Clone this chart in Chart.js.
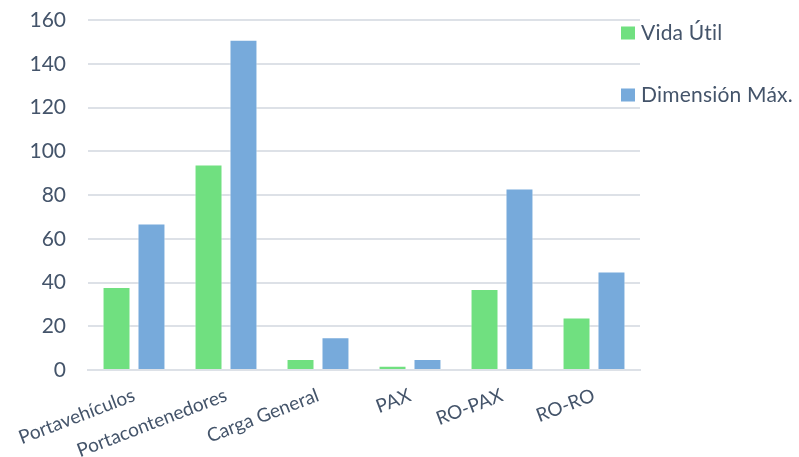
<!DOCTYPE html>
<html>
<head>
<meta charset="utf-8">
<script src="https://cdn.jsdelivr.net/npm/chart.js@4.4.1/dist/chart.umd.min.js"></script>
<style>
  html, body { margin: 0; padding: 0; background: #ffffff; }
  #wrap { width: 799px; height: 457px; }
</style>
</head>
<body>
<div id="wrap"><canvas id="c" width="799" height="457"></canvas></div>
<script>
const categories = ['Portavehículos', 'Portacontenedores', 'Carga General', 'PAX', 'RO-PAX', 'RO-RO'];
const vidaUtil = [38, 94, 5, 2, 37, 24];
const dimensionMax = [67, 151, 15, 5, 83, 45];
const yTicks = [0, 20, 40, 60, 80, 100, 120, 140, 160];

const TEXT = '#44546A';
const GRID = '#DDE1E7';
const FONT = 'Lato, "Open Sans", sans-serif';

// Legend drawn at the upper right, partly over the plot area
const sideLegend = {
  id: 'sideLegend',
  afterDraw(chart) {
    const ctx = chart.ctx;
    ctx.save();
    ctx.font = '21px ' + FONT;
    if ('letterSpacing' in ctx) ctx.letterSpacing = '0.2px';
    ctx.textBaseline = 'middle';
    ctx.textAlign = 'left';
    chart.data.datasets.forEach((ds, i) => {
      const cy = 33 + i * 62;
      ctx.fillStyle = ds.backgroundColor;
      ctx.fillRect(621, cy - 6.5, 14, 13);
      ctx.fillStyle = TEXT;
      ctx.fillText(ds.label, 641, cy);
    });
    ctx.restore();
  }
};

new Chart(document.getElementById('c'), {
  type: 'bar',
  data: {
    labels: categories,
    datasets: [
      { label: 'Vida Útil', data: vidaUtil, backgroundColor: '#70E080',
        borderColor: 'rgba(255,255,255,0.55)', borderWidth: 1 },
      { label: 'Dimensión Máx.', data: dimensionMax, backgroundColor: '#77AADB',
        borderColor: 'rgba(255,255,255,0.55)', borderWidth: 1 }
    ]
  },
  options: {
    responsive: false,
    animation: false,
    layout: { padding: { top: 20, right: 159, left: 0, bottom: 0 } },
    datasets: { bar: { categoryPercentage: 0.76, barPercentage: 0.8 } },
    plugins: { legend: { display: false }, tooltip: { enabled: false } },
    scales: {
      x: {
        grid: { display: false, drawTicks: false },
        border: { display: true, color: GRID, width: 2 },
        ticks: {
          color: TEXT, font: { family: FONT, size: 19 },
          minRotation: 21, maxRotation: 21, autoSkip: false, padding: 14
        },
        afterFit(scale) { scale.height = 87; scale.paddingLeft = 0; scale.paddingRight = 0; }
      },
      y: {
        min: 0, max: 160,
        afterBuildTicks(scale) { scale.ticks = yTicks.map(v => ({ value: v })); },
        grid: { color: GRID, lineWidth: 2, drawTicks: false },
        border: { display: false },
        ticks: { color: TEXT, font: { family: FONT, size: 21 }, padding: 22 },
        afterFit(scale) { scale.width = 88; scale.paddingTop = 0; scale.paddingBottom = 0; }
      }
    }
  },
  plugins: [sideLegend]
});
</script>
</body>
</html>
